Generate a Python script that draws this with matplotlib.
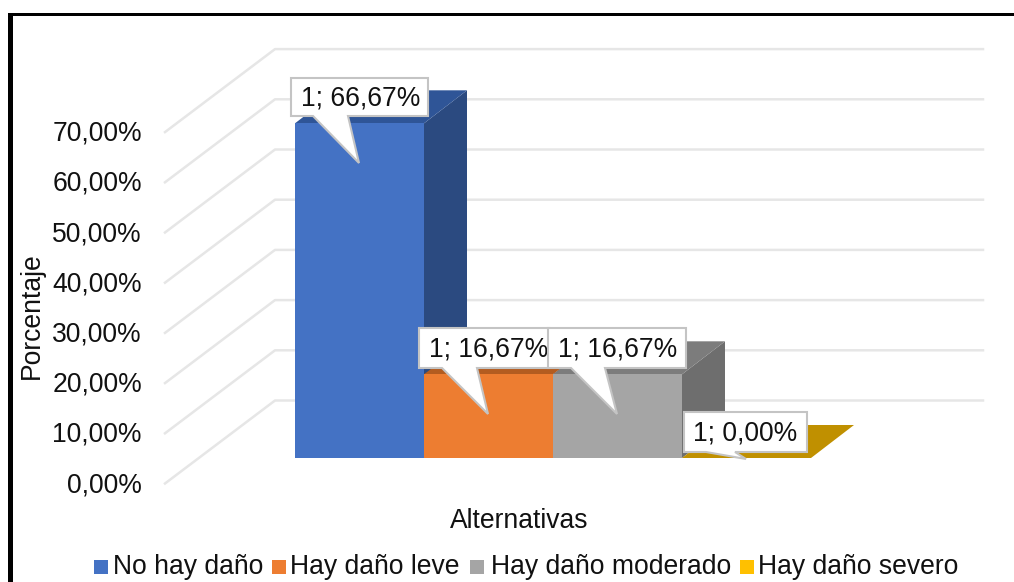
import matplotlib
matplotlib.use("Agg")
import matplotlib.pyplot as plt
from matplotlib.patches import Polygon, Rectangle

plt.rcParams['font.family'] = ['Liberation Sans', 'DejaVu Sans']

""" Data """
categories = ["No hay daño", "Hay daño leve", "Hay daño moderado", "Hay daño severo"]
values = [66.67, 16.67, 16.67, 0.0]
labels = ["1; 66,67%", "1; 16,67%", "1; 16,67%", "1; 0,00%"]
ticks = [0, 10, 20, 30, 40, 50, 60, 70]
tick_labels = ["0,00%", "10,00%", "20,00%", "30,00%", "40,00%", "50,00%", "60,00%", "70,00%"]
front_cols = ["#4472C4", "#ED7D31", "#A5A5A5", "#FFC000"]
top_cols = ["#2F5597", "#B35C20", "#7C7C7C", "#C09000"]
side_cols = ["#2B4A80", "#9E5220", "#6E6E6E", "#A87E00"]

""" Layout, in reference pixels """
W, H = 1014, 582
y0_px, px_per_pct = 483.5, 5.02
x0_px, bar_px = 295, 129
font = 19.1

fig = plt.figure(figsize = (W / 100, H / 100), dpi = 100)
ax = fig.add_axes([0, 0, 1, 1])
ax.set_xlim(-x0_px / bar_px, (W - x0_px) / bar_px)
ax.set_ylim(-(H - y0_px) / px_per_pct, y0_px / px_per_pct)
ax.axis("off")

def fx(px):
    return px / W

def fy(px):
    return 1 - px / H

def dx(px):
    return px / bar_px

def dy(px):
    return px / px_per_pct

# grid: walls of the 3d box
wall_x, wall_dx, wall_dy, wall_right = dx(165 - x0_px), dx(110), dy(83), dx(983 - x0_px)
for t in ticks:
    ax.plot([wall_x, wall_x + wall_dx, wall_right], [t, t + wall_dy, t + wall_dy], color = "#E6E6E6", lw = 1.8, zorder = 1)

# bars
base = dy(25.5)
depth_x, depth_y = dx(43), dy(33)
for i, v in enumerate(values):
    left, right, bot, top = i, i + 1, base, base + v
    ax.add_patch(Polygon([(right, bot), (right + depth_x, bot + depth_y), (right + depth_x, top + depth_y), (right, top)], color = side_cols[i], lw = 0, zorder = 2 + i))
    ax.add_patch(Polygon([(left, top), (left + depth_x, top + depth_y), (right + depth_x, top + depth_y), (right, top)], color = top_cols[i], lw = 0, zorder = 2 + i))
    ax.add_patch(Rectangle((left, bot), 1, v, color = front_cols[i], lw = 0, zorder = 2 + i))

# callouts, pixel boxes with a tail: x1, y1, x2, y2, tail left, tail right, tip x, tip y, text x
boxes = [(291, 78, 428, 116, 313, 348, 359, 163, 301),
         (419, 328, 549, 368, 442, 477, 488, 414, 429),
         (548, 328, 686, 368, 571, 605, 617, 414, 558),
         (684, 412, 807, 452, 706, 735, 746, 459, 693)]
for k, (x1, y1, x2, y2, t1, t2, tx, ty, lx) in enumerate(boxes):
    pts = [(x1, y1), (x2, y1), (x2, y2), (t2, y2), (tx, ty), (t1, y2), (x1, y2)]
    ax.add_patch(Polygon([(fx(a), fy(b)) for a, b in pts], transform = ax.transAxes, fc = "white", ec = "#C4C4C4", lw = 1.5, joinstyle = "miter", zorder = 10 + k))
    ax.text(fx(lx), fy((y1 + y2) / 2 + 1), labels[k], transform = ax.transAxes, fontsize = font, ha = "left", va = "center", color = "#111111", zorder = 10 + k)

# tick labels and axis titles
for t, s in zip(ticks, tick_labels):
    ax.text(fx(142), fy(y0_px - t * px_per_pct + 1.5), s, transform = ax.transAxes, fontsize = font, ha = "right", va = "center", color = "#111111")
ax.text(fx(32), fy(316), "Porcentaje", transform = ax.transAxes, fontsize = font, rotation = 90, ha = "center", va = "center", color = "#111111")
ax.text(fx(519), fy(520.5), "Alternativas", transform = ax.transAxes, fontsize = font, ha = "center", va = "center", color = "#111111")

# legend
leg_sq = [94, 272, 470, 740]
leg_tx = [113, 290, 491, 758]
for c, s, a, b in zip(front_cols, categories, leg_sq, leg_tx):
    ax.add_patch(Rectangle((fx(a), fy(574)), 14 / W, 14 / H, transform = ax.transAxes, fc = c, lw = 0))
    ax.text(fx(b), fy(567), s, transform = ax.transAxes, fontsize = font, ha = "left", va = "center", color = "#111111")

# outer frame, left and top only
ax.add_patch(Rectangle((fx(8), 0), 4.5 / W, fy(13), transform = ax.transAxes, fc = "black", lw = 0))
ax.add_patch(Rectangle((fx(8), fy(15.5)), 1 - fx(8), 2.5 / H, transform = ax.transAxes, fc = "black", lw = 0))

fig.savefig("out.png", dpi = 100)
